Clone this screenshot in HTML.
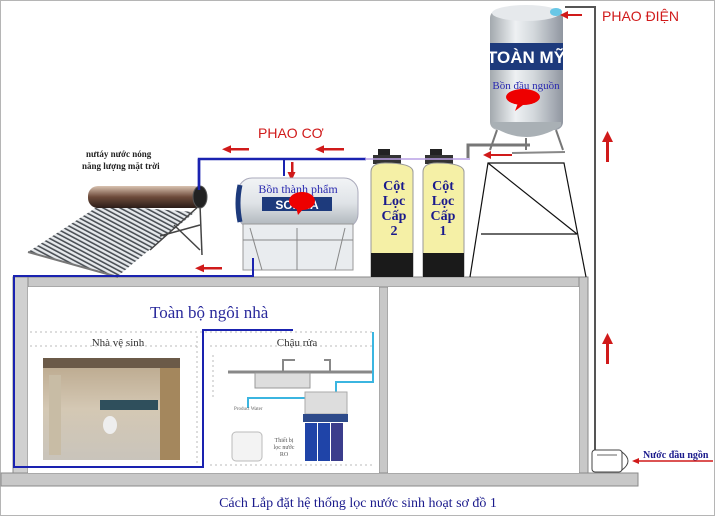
<!DOCTYPE html>
<html><head><meta charset="utf-8"><style>
html,body{margin:0;padding:0;background:#fff}
svg{display:block}
.s{font-family:"Liberation Serif","DejaVu Serif",serif}
.a{font-family:"Liberation Sans",sans-serif}
</style></head><body>
<svg width="715" height="516" viewBox="0 0 715 516" xmlns="http://www.w3.org/2000/svg">
<defs>
<linearGradient id="steel" x1="0" x2="1" y1="0" y2="0">
<stop offset="0" stop-color="#a3a9ae"/><stop offset=".35" stop-color="#eef1f3"/><stop offset=".6" stop-color="#d3d8dc"/><stop offset="1" stop-color="#9096a0"/></linearGradient>
<linearGradient id="steelv" x1="0" x2="0" y1="0" y2="1">
<stop offset="0" stop-color="#f2f4f6"/><stop offset=".5" stop-color="#dfe3e7"/><stop offset="1" stop-color="#aab1b7"/></linearGradient>
<linearGradient id="copper" x1="0" x2="0" y1="0" y2="1">
<stop offset="0" stop-color="#d9c2b0"/><stop offset=".5" stop-color="#6d4a3a"/><stop offset="1" stop-color="#2b1d18"/></linearGradient>
<pattern id="tubes" width="4" height="4" patternUnits="userSpaceOnUse" patternTransform="rotate(-62)">
<rect width="4" height="4" fill="#e6e9ec"/><rect width="1.6" height="4" fill="#4a4f55"/></pattern>
<linearGradient id="bath" x1="0" x2="0" y1="0" y2="1">
<stop offset="0" stop-color="#b9a68a"/><stop offset=".5" stop-color="#d4c8b4"/><stop offset="1" stop-color="#c9c4bb"/></linearGradient>
</defs>
<rect x="0.5" y="0.5" width="714" height="515" fill="#fff" stroke="#b5b5b5"/>

<!-- house -->
<rect x="13" y="277" width="575" height="10" fill="#c8c8c8" stroke="#8a8a8a"/>
<rect x="13" y="277" width="15" height="200" fill="#d0d0d0" stroke="#8a8a8a"/>
<rect x="379" y="287" width="9" height="188" fill="#c8c8c8" stroke="#8a8a8a"/>
<rect x="579" y="277" width="9" height="198" fill="#c8c8c8" stroke="#8a8a8a"/>
<rect x="1" y="473" width="637" height="13" fill="#c8c8c8" stroke="#8a8a8a"/>
<rect x="28" y="287" width="351" height="186" fill="#fff"/>
<rect x="388" y="287" width="191" height="186" fill="#fff"/>

<!-- right supply pipe -->
<polyline points="565,7 595,7 595,455" fill="none" stroke="#555" stroke-width="2"/>
<!-- pump -->
<rect x="592" y="450" width="30" height="22" rx="3" fill="#fff" stroke="#444"/>
<path d="M622,452 Q634,461 622,470 Z" fill="#fff" stroke="#444"/>
<line x1="597" y1="455" x2="617" y2="455" stroke="#666"/>
<text x="643" y="458" class="s" font-size="10" font-weight="bold" fill="#1a1a8c">Nước đầu ngồn</text>
<line x1="636" y1="461" x2="713" y2="461" stroke="#d01a1a" stroke-width="1.5"/>
<path d="M632,461 l7,-3 v6 z" fill="#d01a1a"/>
<!-- up arrows -->
<g fill="#d01a1a"><rect x="606" y="140" width="3" height="22"/><path d="M602,142 l5.5,-11 l5.5,11z"/>
<rect x="606" y="342" width="3" height="22"/><path d="M602,344 l5.5,-11 l5.5,11z"/></g>

<!-- tower -->
<g stroke="#111" stroke-width="1.2" fill="none">
<polyline points="470,277 488,163 564,163 586,277"/>
<line x1="488" y1="163" x2="577" y2="234"/>
<line x1="481" y1="234" x2="577" y2="234"/>
</g>
<!-- tank -->
<rect x="490" y="10" width="73" height="120" rx="8" fill="url(#steel)"/>
<ellipse cx="526" cy="13" rx="34" ry="8" fill="#e6e9ec"/>
<path d="M492,126 Q526,148 561,126 L561,122 L492,122Z" fill="#a9b0b5"/>
<g stroke="#777" stroke-width="2"><line x1="497" y1="130" x2="490" y2="150"/><line x1="556" y1="130" x2="563" y2="150"/><line x1="526" y1="138" x2="526" y2="150"/></g>
<rect x="490" y="43" width="73" height="27" fill="#1d3a7c"/>
<text x="526" y="63" class="a" font-size="17" font-weight="bold" fill="#fff" text-anchor="middle">TOÀN MỸ</text>
<text x="526" y="89" class="s" font-size="11" fill="#2a2ab0" text-anchor="middle">Bồn đầu nguồn</text>
<ellipse cx="523" cy="97" rx="17" ry="8" fill="#e00"/>
<path d="M518,103 l-3,8 l8,-6z" fill="#e00"/>
<ellipse cx="556" cy="12" rx="6" ry="4" fill="#69c7e6"/>
<line x1="562" y1="15" x2="582" y2="15" stroke="#d01a1a" stroke-width="2"/><path d="M560,15 l8,-4 v8z" fill="#d01a1a"/>
<text x="602" y="21" class="a" font-size="14" fill="#d01a1a">PHAO ĐIỆN</text>
<!-- outlet pipe from tank -->
<polyline points="530,145 468,145 468,158" fill="none" stroke="#777" stroke-width="3"/>
<line x1="512" y1="153" x2="565" y2="152" stroke="#888" stroke-width="2"/>
<line x1="488" y1="155" x2="512" y2="155" stroke="#d01a1a" stroke-width="2"/><path d="M483,155 l8,-4 v8z" fill="#d01a1a"/>

<!-- pipes top -->
<polyline points="366,159 199,159 199,200" fill="none" stroke="#1a22b0" stroke-width="2.5"/>
<line x1="284" y1="159" x2="284" y2="176" stroke="#1a22b0" stroke-width="2"/>
<g fill="#d01a1a">
<rect x="229" y="148" width="20" height="2.5"/><path d="M222,149.2 l9,-4 v8z"/>
<rect x="322" y="148" width="22" height="2.5"/><path d="M315,149.2 l9,-4 v8z"/>
<rect x="291" y="162" width="2.5" height="12"/><path d="M287.5,172 l4,9 l4,-9z"/>
<rect x="202" y="267" width="20" height="2.5"/><path d="M195,268.2 l9,-4 v8z"/>
</g>
<text x="258" y="138" class="a" font-size="14" fill="#d01a1a">PHAO CƠ</text>

<!-- filter columns -->
<g>
<rect x="378" y="149" width="12" height="7" fill="#222"/><rect x="373" y="155" width="28" height="9" fill="#333"/>
<path d="M371,172 Q371,163 385,163 Q413,163 413,172 V277 H371Z" fill="#f5f0a6" stroke="#999"/>
<rect x="371" y="253" width="42" height="24" fill="#1a1a1a"/>
<rect x="430" y="149" width="12" height="7" fill="#222"/><rect x="425" y="155" width="28" height="9" fill="#333"/>
<path d="M423,172 Q423,163 437,163 Q464,163 464,172 V277 H423Z" fill="#f5f0a6" stroke="#999"/>
<rect x="423" y="253" width="41" height="24" fill="#1a1a1a"/>
</g>
<g class="s" font-size="14" font-weight="bold" fill="#1a1a8c" text-anchor="middle">
<text x="394" y="190">Cột</text><text x="394" y="205">Lọc</text><text x="394" y="220">Cấp</text><text x="394" y="235">2</text>
<text x="443" y="190">Cột</text><text x="443" y="205">Lọc</text><text x="443" y="220">Cấp</text><text x="443" y="235">1</text>
</g>
<line x1="365" y1="159" x2="470" y2="159" stroke="#b9a0e6" stroke-width="1.5"/>

<!-- finished tank -->
<rect x="238" y="178" width="120" height="50" rx="14" fill="url(#steelv)" stroke="#aab"/>
<path d="M240,185 Q236,203 240,222" stroke="#1d3a7c" stroke-width="5" fill="none"/>
<rect x="243" y="224" width="110" height="46" fill="#e9ecef" stroke="#999"/>
<g stroke="#888"><line x1="250" y1="228" x2="262" y2="270"/><line x1="345" y1="228" x2="335" y2="270"/><line x1="297" y1="228" x2="297" y2="270"/><line x1="243" y1="240" x2="353" y2="240"/></g>
<rect x="262" y="197" width="70" height="14" fill="#1d3a7c"/>
<text x="297" y="209" class="a" font-size="12" font-weight="bold" fill="#fff" text-anchor="middle">SONHA</text>
<text x="298" y="193" class="s" font-size="12" fill="#2a2ab0" text-anchor="middle">Bồn thành phẩm</text>
<ellipse cx="302" cy="201" rx="13" ry="9" fill="#e00"/><path d="M296,207 l2,8 l6,-7z" fill="#e00"/>

<!-- solar heater -->
<polygon points="28,252 118,276 195,212 100,205" fill="url(#tubes)"/>
<line x1="28" y1="252" x2="118" y2="277" stroke="#777" stroke-width="2"/>
<g stroke="#444" stroke-width="1.5"><line x1="200" y1="205" x2="202" y2="255"/><line x1="160" y1="236" x2="200" y2="225"/><line x1="150" y1="250" x2="200" y2="205"/><line x1="174" y1="225" x2="200" y2="250"/></g>
<rect x="88" y="186" width="116" height="22" rx="10" fill="url(#copper)"/>
<ellipse cx="200" cy="197" rx="7" ry="11" fill="#222" stroke="#555"/>
<polyline points="199,159 199,190" fill="none" stroke="#1a22b0" stroke-width="2.5"/>
<text x="86" y="157" class="s" font-size="9" font-weight="bold" fill="#222">nưtáy nước nóng</text>
<text x="82" y="169" class="s" font-size="9" font-weight="bold" fill="#222">năng lượng mặt trời</text>

<!-- blue pipe down -->
<polyline points="253,258 253,276 14,276 14,467 203,467 203,330 293,330" fill="none" stroke="#1a22b0" stroke-width="2"/>

<!-- interior -->
<text x="150" y="318" class="s" font-size="17" fill="#2a2a9c">Toàn bộ ngôi nhà</text>
<g stroke="#bbb" stroke-dasharray="2,3" fill="none">
<line x1="30" y1="332" x2="375" y2="332"/><line x1="30" y1="346" x2="200" y2="346"/>
<line x1="210" y1="346" x2="375" y2="346"/><line x1="210" y1="465" x2="375" y2="465"/>
<line x1="197" y1="336" x2="197" y2="465"/><line x1="213" y1="355" x2="213" y2="400"/>
</g>
<text x="118" y="346" class="s" font-size="11" fill="#333" text-anchor="middle">Nhà vệ sinh</text>
<text x="297" y="346" class="s" font-size="11" fill="#333" text-anchor="middle">Chậu rửa</text>
<rect x="43" y="358" width="137" height="102" fill="url(#bath)"/>
<rect x="43" y="358" width="137" height="10" fill="#6b5a48"/>
<rect x="100" y="400" width="58" height="10" fill="#2f4f5c"/>
<ellipse cx="110" cy="425" rx="7" ry="9" fill="#eee"/>
<rect x="160" y="368" width="20" height="92" fill="#a4875d"/>
<rect x="49" y="375" width="12" height="80" fill="#c8bca5"/>
<!-- sink -->
<line x1="228" y1="372" x2="372" y2="372" stroke="#888" stroke-width="3"/>
<rect x="255" y="373" width="55" height="15" fill="#ddd" stroke="#999"/>
<path d="M283,372 v-12 h12" stroke="#888" stroke-width="2" fill="none"/>
<path d="M330,372 v-12 h-6" stroke="#888" stroke-width="2" fill="none"/>
<polyline points="373,332 373,382 336,382 336,396" fill="none" stroke="#3bb5e0" stroke-width="2"/>
<polyline points="248,408 248,398 318,398" fill="none" stroke="#3bb5e0" stroke-width="2"/>
<text x="234" y="410" class="s" font-size="5" fill="#666">Product Water</text>
<rect x="232" y="432" width="30" height="29" rx="4" fill="#f3f3f3" stroke="#bbb"/>
<rect x="305" y="392" width="42" height="22" fill="#ddd" stroke="#aaa"/>
<rect x="303" y="414" width="45" height="8" fill="#2d4a8a"/>
<rect x="305" y="423" width="12" height="38" fill="#1f44a8"/><rect x="318" y="423" width="12" height="38" fill="#1f44a8"/><rect x="331" y="423" width="12" height="38" fill="#3b3d8c"/>
<text x="284" y="442" class="s" font-size="6" fill="#555" text-anchor="middle">Thiết bị</text>
<text x="284" y="449" class="s" font-size="6" fill="#555" text-anchor="middle">lọc nước</text>
<text x="284" y="456" class="s" font-size="6" fill="#555" text-anchor="middle">RO</text>

<text x="358" y="507" class="s" font-size="14" fill="#1a1a8c" text-anchor="middle">Cách Lắp đặt hệ thống lọc nước sinh hoạt sơ đồ 1</text>
</svg>
</body></html>
